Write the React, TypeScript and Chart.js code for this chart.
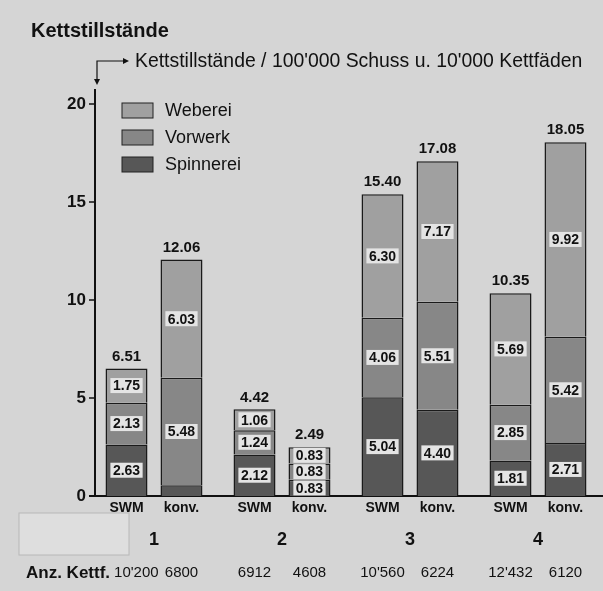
import React, { useEffect, useRef } from 'react';
import { Chart, registerables } from 'chart.js';
Chart.register(...registerables);

const groups = ['1', '2', '3', '4'];
const variants = ['SWM', 'konv.'];
const seriesNames = ['Weberei', 'Vorwerk', 'Spinnerei'];
const webereiSWM = [1.75, 1.06, 6.3, 5.69];
const vorwerkSWM = [2.13, 1.24, 4.06, 2.85];
const spinnereiSWM = [2.63, 2.12, 5.04, 1.81];
const webereiKonv = [6.03, 0.83, 7.17, 9.92];
const vorwerkKonv = [5.48, 0.83, 5.51, 5.42];
const spinnereiKonv = [0.55, 0.83, 4.4, 2.71];
const kettfSWM = ["10'200", '6912', "10'560", "12'432"];
const kettfKonv = ['6800', '4608', '6224', '6120'];
const yTicks = [0, 5, 10, 15, 20];

const TITLE = 'Kettstillstände';
const SUBTITLE = "Kettstillstände / 100'000 Schuss u. 10'000 Kettfäden";
const ROW_LABEL = 'Anz. Kettf.';

const FONT = '"Liberation Sans", Arial, Helvetica, sans-serif';
const BG = '#d5d5d5';
const COLORS: Record<string, string> = {
  Weberei: '#a0a0a0',
  Vorwerk: '#878787',
  Spinnerei: '#575757',
};
const INK = '#111111';

const decor = {
  id: 'decor',
  beforeDraw(chart: any) {
    const { ctx, width, height } = chart;
    ctx.save();
    ctx.fillStyle = BG;
    ctx.fillRect(0, 0, width, height);
    ctx.restore();
  },
  afterDatasetsDraw(chart: any) {
    const ctx = chart.ctx;
    ctx.save();
    ctx.textAlign = 'center';
    ctx.textBaseline = 'middle';
    // segment labels
    ctx.font = `bold 14px ${FONT}`;
    chart.data.datasets.forEach((ds: any, di: number) => {
      const meta = chart.getDatasetMeta(di);
      meta.data.forEach((el: any, i: number) => {
        const v = ds.data[i];
        if (v < 0.6) return;
        const { x, y, base } = el.getProps(['x', 'y', 'base'], true);
        const cy = (y + base) / 2;
        const txt = v.toFixed(2);
        const w = ctx.measureText(txt).width + 5;
        const h = 15;
        ctx.fillStyle = '#e4e4e4';
        ctx.fillRect(x - w / 2, cy - h / 2, w, h);
        ctx.fillStyle = INK;
        ctx.fillText(txt, x, cy + 1);
      });
    });
    // totals
    ctx.font = `bold 15px ${FONT}`;
    ctx.fillStyle = INK;
    variants.forEach((stack) => {
      const idxs = chart.data.datasets
        .map((d: any, k: number) => (d.stack === stack ? k : -1))
        .filter((k: number) => k >= 0);
      const top = idxs[idxs.length - 1];
      const meta = chart.getDatasetMeta(top);
      meta.data.forEach((el: any, i: number) => {
        const total = idxs.reduce((s: number, k: number) => s + chart.data.datasets[k].data[i], 0);
        const { x, y } = el.getProps(['x', 'y'], true);
        ctx.fillText(total.toFixed(2), x, y - 12);
      });
    });
    ctx.restore();
  },
  afterDraw(chart: any) {
    const ctx = chart.ctx;
    const ys = chart.scales.y;
    const area = chart.chartArea;
    const ax = area.left + 5;
    const yb = ys.getPixelForValue(0);
    const yt = ys.getPixelForValue(20);
    ctx.save();
    ctx.strokeStyle = INK;
    ctx.fillStyle = INK;
    // y axis line
    ctx.lineWidth = 2;
    ctx.beginPath();
    ctx.moveTo(ax, yb);
    ctx.lineTo(ax, yt - 15);
    ctx.stroke();
    // ticks
    ctx.lineWidth = 1.5;
    yTicks.forEach((v) => {
      const py = ys.getPixelForValue(v);
      ctx.beginPath();
      ctx.moveTo(ax - 6, py);
      ctx.lineTo(ax, py);
      ctx.stroke();
    });
    // bracket arrow to subtitle
    const by = yt - 43;
    ctx.lineWidth = 1.2;
    ctx.beginPath();
    ctx.moveTo(ax + 2, yt - 24);
    ctx.lineTo(ax + 2, by);
    ctx.lineTo(ax + 28, by);
    ctx.stroke();
    ctx.beginPath();
    ctx.moveTo(ax + 2, yt - 19);
    ctx.lineTo(ax - 1, yt - 25);
    ctx.lineTo(ax + 5, yt - 25);
    ctx.closePath();
    ctx.fill();
    ctx.beginPath();
    ctx.moveTo(ax + 34, by);
    ctx.lineTo(ax + 28, by - 3);
    ctx.lineTo(ax + 28, by + 3);
    ctx.closePath();
    ctx.fill();
    // subtitle
    ctx.font = `19.4px ${FONT}`;
    ctx.textAlign = 'left';
    ctx.textBaseline = 'middle';
    ctx.fillText(SUBTITLE, ax + 40, by + 1);
    // legend
    seriesNames.forEach((name, i) => {
      const sx = area.left + 32;
      const sy = yt - 1 + i * 27;
      ctx.fillStyle = COLORS[name];
      ctx.fillRect(sx, sy, 31, 15);
      ctx.strokeStyle = '#222';
      ctx.lineWidth = 1;
      ctx.strokeRect(sx, sy, 31, 15);
      ctx.fillStyle = INK;
      ctx.font = `18px ${FONT}`;
      ctx.fillText(name, sx + 43, sy + 8);
    });
    // faint scan patch
    ctx.fillStyle = 'rgba(228,228,228,0.6)';
    ctx.fillRect(19, yb + 17, 110, 42);
    ctx.strokeStyle = 'rgba(175,175,175,0.8)';
    ctx.lineWidth = 1;
    ctx.strokeRect(19, yb + 17, 110, 42);
    // variant labels and Kettfaden counts
    ctx.fillStyle = INK;
    ctx.font = `bold 17px ${FONT}`;
    ctx.textAlign = 'left';
    const rowY = yb + 77;
    ctx.fillText(ROW_LABEL, 26, rowY);
    const labelEnd = 26 + ctx.measureText(ROW_LABEL).width;
    const counts = [kettfSWM, kettfKonv];
    variants.forEach((stack, si) => {
      const di = chart.data.datasets.findIndex((d: any) => d.stack === stack);
      const meta = chart.getDatasetMeta(di);
      meta.data.forEach((el: any, i: number) => {
        const { x } = el.getProps(['x'], true);
        ctx.font = `bold 14px ${FONT}`;
        ctx.textAlign = 'center';
        ctx.fillText(stack, x, yb + 12);
        ctx.font = `15px ${FONT}`;
        const txt = counts[si][i];
        const w = ctx.measureText(txt).width;
        const left = Math.max(x - w / 2, labelEnd + 4);
        ctx.textAlign = 'left';
        ctx.fillText(txt, left, rowY);
      });
    });
    ctx.restore();
  },
};

export default function App() {
  const ref = useRef<HTMLCanvasElement>(null);
  useEffect(() => {
    const mk = (label: string, stack: string, data: number[]) => ({
      label,
      stack,
      data,
      backgroundColor: COLORS[label],
      borderColor: '#1a1a1a',
      borderWidth: 1.5,
      categoryPercentage: 0.859,
      barPercentage: 0.764,
    });
    const chart = new Chart(ref.current as HTMLCanvasElement, {
      type: 'bar',
      data: {
        labels: groups,
        datasets: [
          mk('Spinnerei', 'SWM', spinnereiSWM),
          mk('Vorwerk', 'SWM', vorwerkSWM),
          mk('Weberei', 'SWM', webereiSWM),
          mk('Spinnerei', 'konv.', spinnereiKonv),
          mk('Vorwerk', 'konv.', vorwerkKonv),
          mk('Weberei', 'konv.', webereiKonv),
        ],
      },
      options: {
        animation: false,
        responsive: false,
        devicePixelRatio: 1,
        events: [],
        layout: { padding: { left: 31, right: 1, top: 0, bottom: 0 } },
        scales: {
          x: {
            afterFit: (s: any) => {
              s.height = 95;
            },
            ticks: { padding: 33, color: INK, font: { size: 18, weight: 'bold', family: FONT } },
            grid: { display: false, drawTicks: false },
            border: { display: true, color: INK, width: 2 },
          },
          y: {
            stacked: true,
            min: 0,
            max: 20,
            afterFit: (s: any) => {
              s.width = 59;
            },
            afterBuildTicks: (s: any) => {
              s.ticks = yTicks.map((v) => ({ value: v }));
            },
            ticks: { padding: 4, color: INK, font: { size: 17, weight: 'bold', family: FONT } },
            grid: { display: false, drawTicks: false },
            border: { display: false },
          },
        },
        plugins: {
          legend: { display: false },
          tooltip: { enabled: false },
          title: {
            display: true,
            text: TITLE,
            align: 'start',
            color: INK,
            font: { size: 20, weight: 'bold', family: FONT },
            padding: { top: 19, bottom: 61 },
          },
        },
      },
      plugins: [decor],
    } as any);
    return () => chart.destroy();
  }, []);
  return (
    <div style={{ position: 'fixed', left: 0, top: 0, width: 603, height: 591, background: BG }}>
      <canvas ref={ref} width={603} height={591} style={{ display: 'block', width: 603, height: 591 }} />
    </div>
  );
}
